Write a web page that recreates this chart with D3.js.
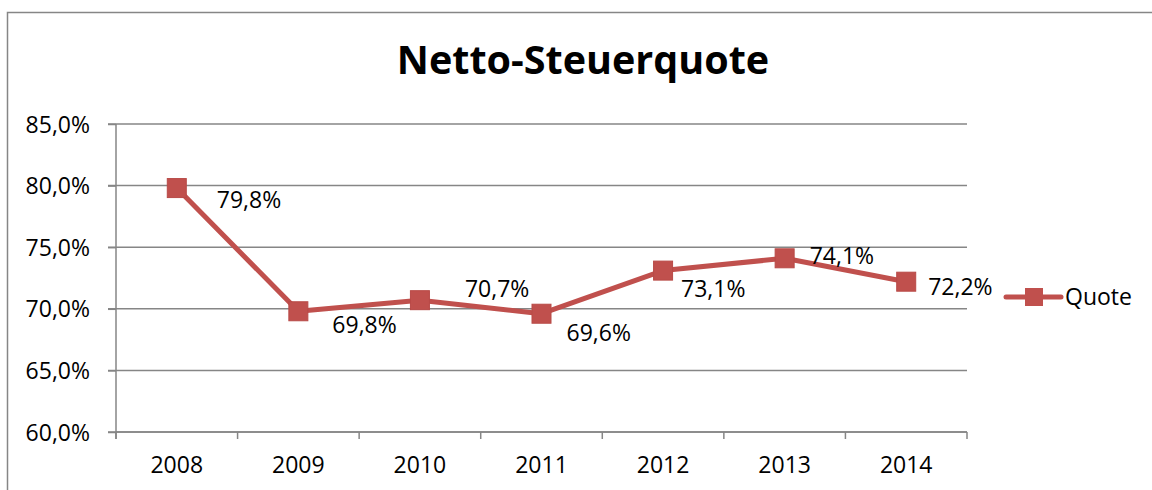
<!DOCTYPE html>
<html>
<head>
<meta charset="utf-8">
<script src="https://cdn.jsdelivr.net/npm/d3@7"></script>
<style>
  body { margin: 0; background: #fff; }
  text { font-family: "Open Sans", "Noto Sans", sans-serif; fill: #000; }
</style>
</head>
<body>
<div id="chart"></div>
<script>
// data
var years = ["2008", "2009", "2010", "2011", "2012", "2013", "2014"];
var quote = [0.798, 0.698, 0.707, 0.696, 0.731, 0.741, 0.722];
var yTicks = [0.60, 0.65, 0.70, 0.75, 0.80, 0.85];
var seriesName = "Quote";
var title = "Netto-Steuerquote";

// label placement relative to each point (left edge, baseline)
var labelOffset = [[40, 20], [34, 22], [45, -3], [25, 27], [18, 26], [25, 6], [22, 13]];

var W = 1152, H = 490;
var plot = { left: 116, right: 967, top: 124, bottom: 432 };
var red = "#C0504D", grey = "#868686";

var svg = d3.select("#chart")
  .append("svg")
  .attr("width", W)
  .attr("height", H);

// outer chart frame (runs off the right and bottom)
svg.append("rect")
  .attr("x", 7.5).attr("y", 12.5)
  .attr("width", W + 20).attr("height", H + 20)
  .attr("fill", "none")
  .attr("stroke", grey)
  .attr("stroke-width", 1.5);

var x = d3.scaleBand()
  .domain(years)
  .range([plot.left, plot.right])
  .padding(0);

var y = d3.scaleLinear()
  .domain([0.60, 0.85])
  .range([plot.bottom, plot.top]);

var fmtPct = function(v, digits) {
  return d3.format("." + digits + "f")(v * 100).replace(".", ",") + "%";
};

// title
svg.append("text")
  .attr("x", 583)
  .attr("y", 74)
  .attr("text-anchor", "middle")
  .style("font-size", "39.5px")
  .style("font-weight", "bold")
  .text(title);

// gridlines
svg.append("g")
  .selectAll("line")
  .data(yTicks)
  .enter().append("line")
  .attr("x1", plot.left - 8)
  .attr("x2", plot.right)
  .attr("y1", function(d) { return y(d); })
  .attr("y2", function(d) { return y(d); })
  .attr("stroke", grey)
  .attr("stroke-width", 1.5);

// y axis
var yAxis = svg.append("g")
  .attr("transform", "translate(" + plot.left + ",0)")
  .call(d3.axisLeft(y).tickValues(yTicks).tickSize(8).tickFormat(function(d) { return fmtPct(d, 1); }));
yAxis.select(".domain").attr("stroke", grey).attr("stroke-width", 1.5).attr("d", "M0," + plot.top + "V" + (plot.bottom + 7));
yAxis.selectAll(".tick line").attr("stroke", grey).attr("stroke-width", 1.5);
yAxis.selectAll(".tick text")
  .attr("x", -26)
  .attr("dy", "0.35em")
  .style("font-size", "23px")
  .style("font-family", "'Open Sans', sans-serif")
  .attr("fill", "#000");

// x axis: ticks on band edges, labels centred
var xg = svg.append("g");
xg.append("line")
  .attr("x1", plot.left).attr("x2", plot.right)
  .attr("y1", plot.bottom).attr("y2", plot.bottom)
  .attr("stroke", grey).attr("stroke-width", 1.5);
xg.selectAll(".xtick")
  .data(years.concat(["end"]))
  .enter().append("line")
  .attr("class", "xtick")
  .attr("x1", function(d, i) { return i < years.length ? x(d) : x(years[years.length - 1]) + x.bandwidth(); })
  .attr("x2", function(d, i) { return i < years.length ? x(d) : x(years[years.length - 1]) + x.bandwidth(); })
  .attr("y1", plot.bottom)
  .attr("y2", plot.bottom + 7)
  .attr("stroke", grey).attr("stroke-width", 1.5);
xg.selectAll(".xlabel")
  .data(years)
  .enter().append("text")
  .attr("class", "xlabel")
  .attr("x", function(d) { return x(d) + x.bandwidth() / 2; })
  .attr("y", 473)
  .attr("text-anchor", "middle")
  .style("font-size", "23px")
  .text(function(d) { return d; });

// series line
var line = d3.line()
  .x(function(d, i) { return x(years[i]) + x.bandwidth() / 2; })
  .y(function(d) { return y(d); });

svg.append("path")
  .datum(quote)
  .attr("d", line)
  .attr("fill", "none")
  .attr("stroke", red)
  .attr("stroke-width", 5)
  .attr("stroke-linejoin", "round");

var ms = 19;
svg.selectAll(".marker")
  .data(quote)
  .enter().append("rect")
  .attr("class", "marker")
  .attr("x", function(d, i) { return x(years[i]) + x.bandwidth() / 2 - ms / 2; })
  .attr("y", function(d) { return y(d) - ms / 2; })
  .attr("width", ms)
  .attr("height", ms)
  .attr("fill", red)
  .attr("stroke", "#B84A47")
  .attr("stroke-width", 1);

// data labels
svg.selectAll(".dlabel")
  .data(quote)
  .enter().append("text")
  .attr("class", "dlabel")
  .attr("x", function(d, i) { return x(years[i]) + x.bandwidth() / 2 + labelOffset[i][0]; })
  .attr("y", function(d, i) { return y(d) + labelOffset[i][1]; })
  .style("font-size", "23px")
  .text(function(d) { return fmtPct(d, 1); });

// legend
var lg = svg.append("g").attr("transform", "translate(1006,297)");
lg.append("line")
  .attr("x1", 0).attr("x2", 55)
  .attr("stroke", red).attr("stroke-width", 5)
  .attr("stroke-linecap", "round");
lg.append("rect")
  .attr("x", 19).attr("y", -9)
  .attr("width", 18).attr("height", 18)
  .attr("fill", red);
lg.append("text")
  .attr("x", 59)
  .attr("dy", "0.35em")
  .style("font-size", "23px")
  .text(seriesName);
</script>
</body>
</html>
